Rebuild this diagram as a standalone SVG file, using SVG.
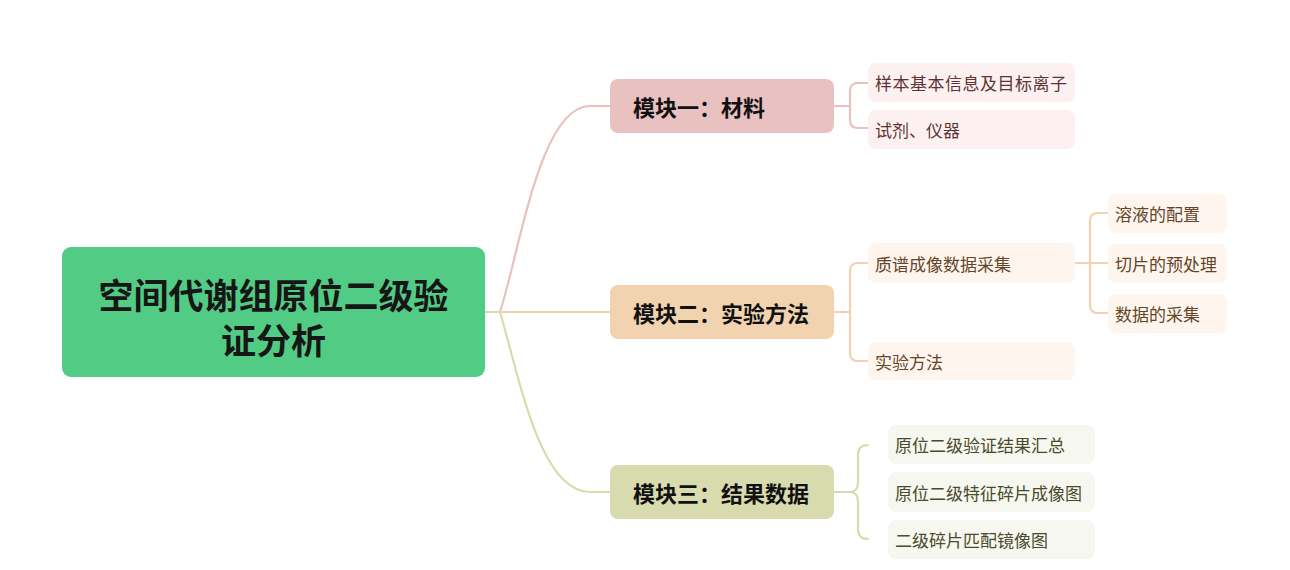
<svg xmlns="http://www.w3.org/2000/svg" width="1290" height="570" viewBox="0 0 1290 570">
<style>
text{font-family:"Noto Sans CJK SC","Noto Sans",sans-serif;dominant-baseline:central}
.root{font-size:35px;font-weight:bold;fill:#161616}
.mod{font-size:22px;font-weight:bold;fill:#111}
.c{font-size:17px}
.l{fill:none;stroke-width:2.2;stroke-linecap:round}
</style>
<rect width="1290" height="570" fill="#fff"/>
<g id="connectors">
<path class="l" d="M485,312 H500" stroke="#d8dbae"/>
<path class="l" d="M500,312 C520,250 540,106 590,106 H610" stroke="#e8c1c0"/>
<path class="l" d="M500,312 H610" stroke="#f2d3b0"/>
<path class="l" d="M500,312 C520,380 540,492 590,492 H610" stroke="#d8dbae"/>
<path class="l" d="M834,106 H850 M868,83 H858 Q850,83 850,91 V120 Q850,128 858,128 H868" stroke="#e8c1c0"/>
<path class="l" d="M834,312 H850 M868,263 H858 Q850,263 850,271 V353 Q850,361 858,361 H868" stroke="#f2d3b0"/>
<path class="l" d="M1075,263 H1108 M1108,213 H1098 Q1090,213 1090,221 V305 Q1090,313 1098,313 H1108" stroke="#f2d3b0"/>
<path class="l" d="M834,492 H850 M868,445 Q858,445 858,455 V482 Q858,492 850,492 Q858,492 858,502 V529 Q858,539 868,539" stroke="#d8dbae"/>
</g>
<g id="root">
<rect x="62" y="247" width="423" height="130" rx="9" fill="#52cc84"/>
<text class="root" x="273.5" y="293" text-anchor="middle">空间代谢组原位二级验</text>
<text class="root" x="273.5" y="338" text-anchor="middle">证分析</text>
</g>
<g id="m1">
<rect x="610" y="79" width="224" height="54" rx="8" fill="#e8c1c0"/>
<text class="mod" x="633" y="106">模块一：材料</text>
</g>
<g id="m2">
<rect x="610" y="285" width="224" height="54" rx="8" fill="#f2d3b0"/>
<text class="mod" x="633" y="312">模块二：实验方法</text>
</g>
<g id="m3">
<rect x="610" y="465" width="224" height="54" rx="8" fill="#d8dbae"/>
<text class="mod" x="633" y="492">模块三：结果数据</text>
</g>
<g id="m1c1">
<rect x="868" y="63" width="207" height="39" rx="8" fill="#fcf1f0"/>
<text class="c" x="875" y="82.5" fill="#5c3434" textLength="192">样本基本信息及目标离子</text>
</g>
<g id="m1c2">
<rect x="868" y="110" width="207" height="39" rx="8" fill="#fcf1f0"/>
<text class="c" x="875" y="129.5" fill="#5c3434">试剂、仪器</text>
</g>
<g id="m2c1">
<rect x="868" y="243" width="207" height="40" rx="8" fill="#fdf5ee"/>
<text class="c" x="875" y="263" fill="#644528">质谱成像数据采集</text>
</g>
<g id="m2c2">
<rect x="868" y="342" width="207" height="38" rx="8" fill="#fdf5ee"/>
<text class="c" x="875" y="361" fill="#644528">实验方法</text>
</g>
<g id="g1">
<rect x="1108" y="194" width="119" height="39" rx="8" fill="#fdf5ee"/>
<text class="c" x="1115" y="213.5" fill="#644528">溶液的配置</text>
</g>
<g id="g2">
<rect x="1108" y="244" width="119" height="39" rx="8" fill="#fdf5ee"/>
<text class="c" x="1115" y="263.5" fill="#644528">切片的预处理</text>
</g>
<g id="g3">
<rect x="1108" y="294" width="119" height="39" rx="8" fill="#fdf5ee"/>
<text class="c" x="1115" y="313.5" fill="#644528">数据的采集</text>
</g>
<g id="m3c1">
<rect x="888" y="425" width="207" height="39" rx="8" fill="#f6f7ef"/>
<text class="c" x="895" y="444.5" fill="#4a4a2c">原位二级验证结果汇总</text>
</g>
<g id="m3c2">
<rect x="888" y="472" width="207" height="40" rx="8" fill="#f6f7ef"/>
<text class="c" x="895" y="492" fill="#4a4a2c">原位二级特征碎片成像图</text>
</g>
<g id="m3c3">
<rect x="888" y="520" width="207" height="39" rx="8" fill="#f6f7ef"/>
<text class="c" x="895" y="539.5" fill="#4a4a2c">二级碎片匹配镜像图</text>
</g>
</svg>
